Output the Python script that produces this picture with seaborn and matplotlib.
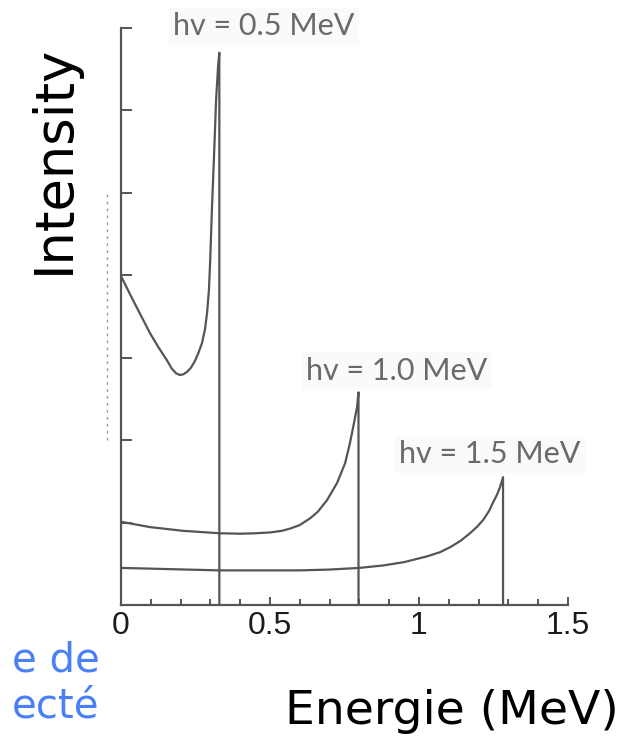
import numpy as np
import pandas as pd
import seaborn as sns
import matplotlib.pyplot as plt
from matplotlib.ticker import MultipleLocator, FixedLocator, FixedFormatter

sns.set_theme(style="white")
plt.rcParams["font.family"] = ["DejaVu Sans"]

# Compton spectra (electron energy distribution) for three photon energies
e_05 = [0.0, 0.040, 0.070, 0.097, 0.125, 0.154, 0.170, 0.185, 0.198, 0.210, 0.222,
        0.235, 0.248, 0.260, 0.272, 0.282, 0.289, 0.295, 0.299, 0.305, 0.312,
        0.319, 0.326, 0.330, 0.330]
i_05 = [3.99, 3.70, 3.49, 3.30, 3.13, 2.97, 2.87, 2.81, 2.79, 2.80, 2.83,
        2.88, 2.96, 3.06, 3.18, 3.35, 3.55, 3.82, 4.15, 4.79, 5.43,
        6.12, 6.55, 6.70, 0.0]

e_10 = [0.0, 0.097, 0.208, 0.332, 0.400, 0.450, 0.500, 0.540, 0.570, 0.600, 0.634,
        0.660, 0.691, 0.725, 0.752, 0.768, 0.782, 0.792, 0.797, 0.797]
i_10 = [1.01, 0.945, 0.90, 0.87, 0.865, 0.87, 0.88, 0.90, 0.93, 0.97, 1.05,
        1.13, 1.27, 1.48, 1.72, 1.96, 2.21, 2.40, 2.58, 0.0]

e_15 = [0.0, 0.329, 0.466, 0.600, 0.700, 0.800, 0.880, 0.950, 1.027, 1.070, 1.104,
        1.140, 1.171, 1.195, 1.215, 1.235, 1.248, 1.262, 1.272, 1.282, 1.282]
i_15 = [0.45, 0.42, 0.42, 0.42, 0.43, 0.45, 0.48, 0.52, 0.59, 0.64, 0.70,
        0.78, 0.87, 0.95, 1.03, 1.14, 1.24, 1.34, 1.43, 1.55, 0.0]

labels = ["hv = 0.5 MeV", "hv = 1.0 MeV", "hv = 1.5 MeV"]
label_pos = [(0.48, 7.02), (0.926, 2.84), (1.238, 1.83)]

x_ticks = [0, 0.5, 1, 1.5]
x_ticklabels = ["0", "0.5", "1", "1.5"]

ink = "#555555"

fig = plt.figure(figsize=(6.37, 7.44), dpi=100)
ax = fig.add_axes([121 / 637, 139 / 744, 447 / 637, 577 / 744])

for e, i in [(e_05, i_05), (e_10, i_10), (e_15, i_15)]:
    df = pd.DataFrame({"energy": e, "intensity": i})
    sns.lineplot(data=df, x="energy", y="intensity", ax=ax, sort=False,
                 estimator=None, color=ink, lw=1.6, clip_on=False)

ax.set_xlim(0, 1.5)
ax.set_ylim(0, 7)
ax.set_xlabel("")
ax.set_ylabel("")

for s in ["top", "right"]:
    ax.spines[s].set_visible(False)
for s in ["left", "bottom"]:
    ax.spines[s].set_color(ink)
    ax.spines[s].set_linewidth(1.6)

ax.xaxis.set_major_locator(FixedLocator(x_ticks))
ax.xaxis.set_major_formatter(FixedFormatter(x_ticklabels))
ax.xaxis.set_minor_locator(MultipleLocator(0.1))
ax.yaxis.set_major_locator(MultipleLocator(1))
ax.set_yticklabels([])
ax.tick_params(axis="x", which="major", direction="in", length=6, width=1.4,
               color=ink, pad=4, labelsize=23, labelcolor="#1c1c1c",
               bottom=True, left=False)
ax.tick_params(axis="x", which="minor", direction="in", length=4, width=1.4,
               color=ink, bottom=True)
ax.tick_params(axis="y", which="major", direction="in", length=8, width=1.4,
               color=ink, left=True)
for t in ax.get_xticklabels():
    t.set_family(["Liberation Sans Narrow", "Liberation Sans", "DejaVu Sans"])

# faint dotted rule beside the intensity axis
ax.plot([-0.047, -0.047], [2.0, 5.0], ls=(0, (2, 3)), color="#9a9a9a",
        lw=1.0, clip_on=False)

for txt, (x, y) in zip(labels, label_pos):
    ax.text(x, y, txt, ha="center", va="center", fontsize=22, color="#6a6a6a",
            family=["Lato", "DejaVu Sans"], clip_on=False,
            bbox=dict(boxstyle="square,pad=0.15", fc="#fafafa", ec="none"))

fig.text(54 / 637, 1 - 159 / 744, "Intensity", rotation=90, ha="center",
         va="center", fontsize=38, color="black")
fig.text(452 / 637, 1 - 712 / 744, "Energie (MeV)", ha="center", va="center",
         fontsize=34, color="black")
fig.text(12 / 637, 1 - 660 / 744, "e de", ha="left", va="center",
         fontsize=29, color="#4a80f5")
fig.text(12 / 637, 1 - 706 / 744, "ecté", ha="left", va="center",
         fontsize=29, color="#4a80f5")

fig.savefig("out.png", dpi=100)
